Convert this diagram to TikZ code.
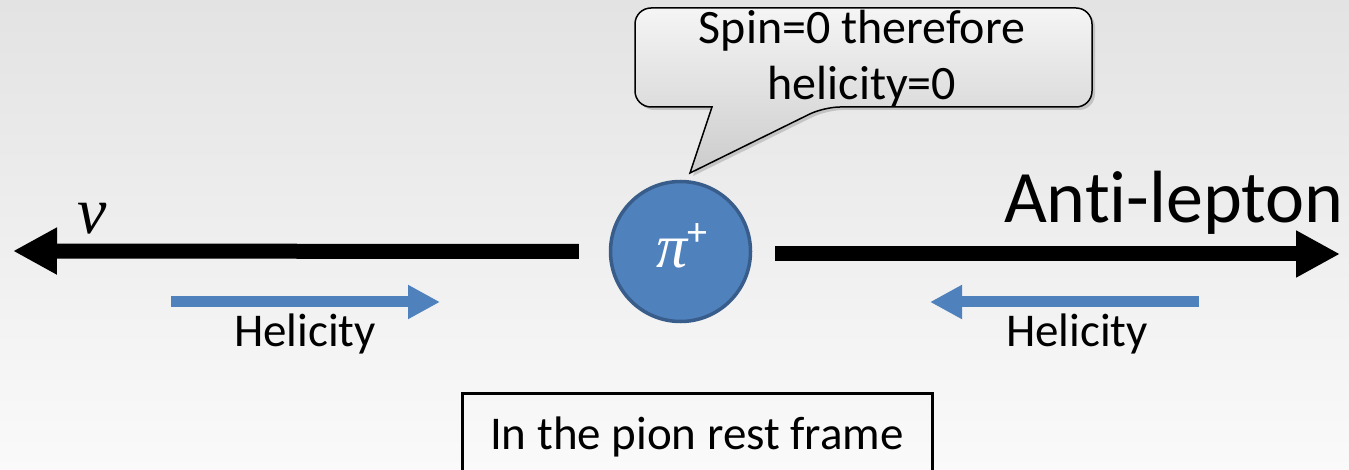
\documentclass[tikz,border=0pt]{standalone}
\usepackage{fontspec}
\setmainfont{Carlito}[Ligatures={NoCommon}]
\newfontfamily\greekit{Liberation Serif}[ItalicFont=* Italic]
\usepackage{tikz}
\usetikzlibrary{arrows.meta, positioning, shadows, calc}
\definecolor{pionblue}{HTML}{4F81BD}
\definecolor{pionedge}{HTML}{385D8A}

\begin{document}
\begin{tikzpicture}[
    x=1pt, y=-1pt,
    bigarrow/.style={draw, line width=15pt, -{Triangle[length=44pt, width=44pt]}},
    helarrow/.style={draw, pionblue, line width=11pt, -{Triangle[length=32pt, width=32pt]}},
    particle/.style={circle, draw=pionedge, line width=3.5pt, fill=pionblue, minimum size=140pt, inner sep=0pt},
    label/.style={font=\fontsize{47}{56}\selectfont, inner sep=0pt},
    framebox/.style={draw, line width=3pt, minimum width=470pt, minimum height=86pt, inner sep=0pt, font=\fontsize{47}{56}\selectfont}
]
    % background and page size
    \useasboundingbox (0,0) rectangle (1349,470);
    \shade[top color=black!11, bottom color=black!2] (0,0) rectangle (1349,470);

    % the pion at rest
    \node[particle] (pion) at (680.5,251.5) {};
    \node[text=white, inner sep=0pt] (pilabel) at (682,246) {{\fontsize{62}{62}\selectfont\greekit\itshape π}\raisebox{22pt}{\fontsize{40}{40}\selectfont +}};

    % decay products
    \coordinate (nutip) at (13,251);
    \coordinate (leptip) at (1340,254);
    \path[bigarrow] ([xshift=-30pt]pion.west) -- (nutip);
    \path[bigarrow] ([xshift=23pt,yshift=-2.5pt]pion.east) -- (leptip);
    \node[inner sep=0pt] (nu) at (92,219) {\fontsize{66}{66}\selectfont\greekit\itshape ν};
    \node[inner sep=0pt, anchor=base east, font=\fontsize{74}{80}\selectfont] (lepton) at (1344,223) {Anti-lepton};

    % helicity arrows
    \coordinate (nuhstart) at (171,302);
    \coordinate (nuhtip) at (440,302);
    \coordinate (lephstart) at (1199,302);
    \coordinate (lephtip) at (930,302);
    \path[helarrow] (nuhstart) -- (nuhtip);
    \path[helarrow] (lephstart) -- (lephtip);
    \node[label] (nuhel) at (305,334) {Helicity};
    \node[label] (lephel) at (1077,334) {Helicity};

    % speech bubble
    \path[draw, line width=1.5pt, top color=black!4, bottom color=black!20,
          drop shadow={shadow xshift=3pt, shadow yshift=-3pt, opacity=0.35}]
        [rounded corners=16pt] (635,8) -- (1092,8) -- (1092,107) -- (824,107)
        [sharp corners] -- (690,173) -- (712,107)
        [rounded corners=16pt] -- (635,107) -- cycle;
    \node[label, align=center, font=\fontsize{48}{56}\selectfont] (spin) at (862,59) {Spin=0 therefore\\helicity=0};

    % frame note
    \node[framebox, anchor=north] (frame) at (697,392) {In the pion rest frame};
\end{tikzpicture}
\end{document}
